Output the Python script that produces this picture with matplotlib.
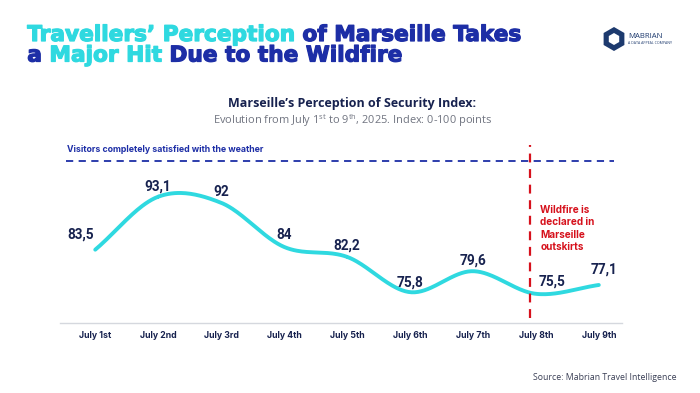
import numpy as np
import matplotlib.pyplot as plt
import matplotlib.patheffects as pe
from matplotlib.patches import RegularPolygon

days = ["July 1st", "July 2nd", "July 3rd", "July 4th", "July 5th",
        "July 6th", "July 7th", "July 8th", "July 9th"]
index_values = [83.5, 93.1, 92, 84, 82.2, 75.8, 79.6, 75.5, 77.1]
value_labels = ["83,5", "93,1", "92", "84", "82,2", "75,8", "79,6", "75,5", "77,1"]
satisfied_level = 99.5
wildfire_day = 6.9

CYAN = "#2fd9e0"
NAVY = "#1d2ea6"
DARK = "#17224f"
RED = "#d6111c"


def catmull_rom(y, n=40):
    # smooth curve through the points (x equally spaced)
    p = np.concatenate([[2 * y[0] - y[1]], y, [2 * y[-1] - y[-2]]])
    xs, ys = [], []
    for i in range(len(y) - 1):
        t = np.linspace(0, 1, n)
        p0, p1, p2, p3 = p[i], p[i + 1], p[i + 2], p[i + 3]
        seg = 0.5 * (2 * p1 + (-p0 + p2) * t + (2 * p0 - 5 * p1 + 4 * p2 - p3) * t ** 2
                     + (-p0 + 3 * p1 - 3 * p2 + p3) * t ** 3)
        xs.append(i + t)
        ys.append(seg)
    return np.concatenate(xs), np.concatenate(ys)


fig = plt.figure(figsize=(7, 3.93), dpi=100)
fig.patch.set_facecolor("white")
ax = fig.add_axes([0.0857, 0.178, 0.803, 0.466])

x = np.arange(len(days))
sx, sy = catmull_rom(np.array(index_values, dtype=float))
ax.plot(sx, sy, color=CYAN, lw=2.8, solid_capstyle="round", zorder=3)

offsets = [(-15, 15), (0, 10), (0, 11), (0, 12), (0, 11), (0, 10), (0, 11), (16, 12), (5, 15)]
for xi, v, lab, off in zip(x, index_values, value_labels, offsets):
    ax.annotate(lab, (xi, v), xytext=off, textcoords="offset pixels",
                ha="center", va="center", fontsize=9.8, fontweight="bold",
                color=DARK, family="Roboto")

ax.axhline(satisfied_level, color=NAVY, lw=1.3, ls=(0, (4, 3)), xmin=0.01, xmax=0.985)
ax.text(-0.45, satisfied_level + 1.4, "Visitors completely satisfied with the weather",
        fontsize=6.3, fontweight="bold", color=NAVY, family="Inter", va="bottom")

ax.axvline(wildfire_day, ymin=0.027, ymax=0.973, color=RED, lw=1.6, ls=(0, (4, 3)), zorder=4)
ax.text(wildfire_day + 0.17, 91.6, "Wildfire is\ndeclared in\nMarseille\noutskirts",
        fontsize=7.2, fontweight="bold", color=RED, family="Inter", va="top",
        linespacing=1.3)

ax.set_xlim(-0.56, 8.37)
ax.set_ylim(70.2, 103.4)
ax.set_xticks(x)
ax.set_xticklabels(days, fontsize=6.3, fontweight="bold", color=DARK, family="Inter")
ax.tick_params(axis="x", length=0, pad=6)
ax.set_yticks([])
for s in ["top", "right", "left"]:
    ax.spines[s].set_visible(False)
ax.spines["bottom"].set_color("#d5d8de")
ax.spines["bottom"].set_linewidth(1)
ax.patch.set_alpha(0)

# title with two colours
fig.canvas.draw()
renderer = fig.canvas.get_renderer()


def colored_line(parts, x0, y0, size):
    xpos = x0
    for txt, col in parts:
        t = fig.text(xpos, y0, txt, color=col, fontsize=size, fontweight="bold",
                     family="DejaVu Sans", va="baseline",
                     path_effects=[pe.withStroke(linewidth=0.9, foreground=col)])
        bb = t.get_window_extent(renderer)
        xpos += bb.width / fig.bbox.width


colored_line([("Travellers\u2019 Perception ", CYAN), ("of Marseille Takes", NAVY)],
             0.039, 1 - 41 / 393, 15.6)
colored_line([("a ", NAVY), ("Major Hit ", CYAN), ("Due to the Wildfire", NAVY)],
             0.039, 1 - 61.5 / 393, 15.6)

fig.text(0.503, 1 - 104 / 393, "Marseille\u2019s Perception of Security Index:",
         ha="center", va="center", fontsize=9.0, fontweight="bold", color=DARK,
         family="Open Sans")
fig.text(0.503, 1 - 121 / 393,
         r"Evolution from July 1$^{\mathregular{st}}$ to 9$^{\mathregular{th}}$, 2025. Index: 0-100 points",
         ha="center", va="center", fontsize=7.9, color="#707480", family="Open Sans")

fig.text(0.967, 1 - 378 / 393, "Source: Mabrian Travel Intelligence", ha="right",
         va="center", fontsize=6.3, color="#3a3f55", family="Open Sans")

# logo
logo = RegularPolygon((6.14, 3.93 - 0.39), 6, radius=0.12, orientation=0,
                      transform=fig.dpi_scale_trans, facecolor="#1d3a6e", edgecolor="none")
fig.add_artist(logo)
inner = RegularPolygon((6.14, 3.93 - 0.39), 6, radius=0.06, orientation=0,
                       transform=fig.dpi_scale_trans, facecolor="white", edgecolor="none")
fig.add_artist(inner)
fig.text(628 / 700, 1 - 36 / 393, "MABRIAN", fontsize=5.6, color="#1d3a6e",
         family="Open Sans", va="center")
fig.text(628 / 700, 1 - 43 / 393, "A DATA APPEAL COMPANY", fontsize=2.5, color="#1d3a6e",
         family="Open Sans", va="center")

fig.savefig("out.png", dpi=100)
